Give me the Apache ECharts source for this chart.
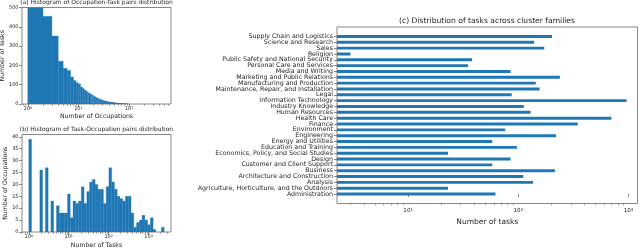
<!DOCTYPE html>
<html><head><meta charset="utf-8">
<script src="https://cdn.jsdelivr.net/npm/echarts@6/dist/echarts.min.js"></script>
<style>html,body{margin:0;padding:0;background:#fff}#c{width:640px;height:248px}</style>
</head><body><div id="c"></div>
<script>
// ---------- (a) number of tasks having k occupations, k = 1, 2, 3, ... ----------
const occupationsPerTask = [
  900, 455, 352, 222, 185, 174, 140, 122, 110, 104,
  88, 80, 72, 66, 60, 56, 52, 48, 44, 40,
  37, 34, 31, 29, 27, 25, 23, 22, 20, 19,
  18, 17, 16, 15, 14, 14, 13, 12, 12, 11,
  11, 10, 10, 9, 9, 8, 8, 8, 7, 7,
  7, 6, 6, 6, 5, 5, 5, 5, 4, 4,
  4, 4, 4, 3, 3, 3, 3, 3, 3, 2,
  2, 2, 2, 2, 2, 2, 2, 2, 1, 2,
  1, 1, 1, 1, 1, 1, 1, 0, 1, 1,
  0, 1, 0, 1, 1
];
const occupationsFirstValue = 1;
// ---------- (b) occupations per log-spaced bin of number of tasks ----------
const tasksPerOccupation = [
  39, 0, 0, 0, 26, 0, 27, 0, 13, 0,
  11, 8, 8, 8, 16, 6, 13, 12, 13, 19,
  12, 17, 21, 22, 20, 18, 18, 12, 19, 27,
  21, 18, 15, 14, 13, 15, 15, 8, 2, 4,
  5, 7, 5, 3, 6, 1, 0, 0, 2
];
const tasksBinLow = 1;
const tasksBinHigh = 2450;
// ---------- (c) tasks per cluster family (bottom to top) ----------
const families = [
  'Administration',
  'Agriculture, Horticulture, and the Outdoors',
  'Analysis',
  'Architecture and Construction',
  'Business',
  'Customer and Client Support',
  'Design',
  'Economics, Policy, and Social Studies',
  'Education and Training',
  'Energy and Utilities',
  'Engineering',
  'Environment',
  'Finance',
  'Health Care',
  'Human Resources',
  'Industry Knowledge',
  'Information Technology',
  'Legal',
  'Maintenance, Repair, and Installation',
  'Manufacturing and Production',
  'Marketing and Public Relations',
  'Media and Writing',
  'Personal Care and Services',
  'Public Safety and National Security',
  'Religion',
  'Sales',
  'Science and Research',
  'Supply Chain and Logistics'
];
const familyTasks = [
  62, 23, 136, 111, 215, 58, 85, 23, 97, 58,
  220, 76, 346, 700, 129, 112, 960, 87, 156, 144,
  238, 85, 35, 38, 3, 172, 139, 202
];
// ---------- tick labels ----------
const ticksA_x = [1, 10, 100];
const minorA_x = [0.8, 0.9, 2, 3, 4, 5, 6, 7, 8, 9, 20, 30, 40, 50, 60, 70, 80, 90, 200, 300, 400, 500, 600];
const ticksA_y = [0, 100, 200, 300, 400, 500];
const ticksB_x = [1, 10, 100, 1000];
const minorB_x = [0.7, 0.8, 0.9, 2, 3, 4, 5, 6, 7, 8, 9, 20, 30, 40, 50, 60, 70, 80, 90, 200, 300, 400, 500, 600, 700, 800, 900, 2000, 3000];
const ticksB_y = [0, 5, 10, 15, 20, 25, 30, 35, 40];
const ticksC_x = [10, 100, 1000];
const minorC_x = [3, 4, 5, 6, 7, 8, 9, 20, 30, 40, 50, 60, 70, 80, 90, 200, 300, 400, 500, 600, 700, 800, 900];

// ---------- build histogram bins ----------
const histA = occupationsPerTask.map((c, i) => [occupationsFirstValue + i, occupationsFirstValue + i + 1, c]);
const nB = tasksPerOccupation.length;
const lo = Math.log10(tasksBinLow), hi = Math.log10(tasksBinHigh);
const histB = tasksPerOccupation.map((c, i) => [
  Math.pow(10, lo + (hi - lo) * i / nB),
  Math.pow(10, lo + (hi - lo) * (i + 1) / nB),
  c
]);
const barsC = familyTasks.map((v, i) => [v, i]);

const FONT = 'DejaVu Sans';
const TXT = '#1e1e1e';
const LINE = '#6a6a6a';
const BLUE = '#1f77b4';

function histItem(params, api) {
  const x0 = api.value(0), x1 = api.value(1), c = api.value(2);
  if (!c) return null;
  const p0 = api.coord([x0, c]);
  const p1 = api.coord([x1, 0]);
  const r = echarts.graphic.clipRectByRect(
    {x: p0[0], y: p0[1], width: p1[0] - p0[0], height: p1[1] - p0[1]}, params.coordSys);
  if (!r) return null;
  return {type: 'rect', shape: r, style: {fill: BLUE, stroke: BLUE, lineWidth: 0.3}};
}
function barItem(params, api) {
  const v = api.value(0), i = api.value(1);
  const a = api.coord([v, i + 0.25]);
  const b = api.coord([v, i - 0.25]);
  const left = params.coordSys.x;
  return {type: 'rect', shape: {x: left, y: a[1], width: a[0] - left, height: b[1] - a[1]}, style: {fill: BLUE}};
}
function powLabel(v) {
  const e = Math.round(Math.log10(v));
  return '{b|10}{e|' + e + '}';
}
function logMajor(grid, min, max, ticks, fs, margin, name, nameGap, nameFs) {
  return {
    type: 'log', gridIndex: grid, min: min, max: max, position: 'bottom',
    axisLine: {show: false},
    splitLine: {show: false},
    axisTick: {show: true, length: 3, customValues: ticks, lineStyle: {color: LINE, width: 0.8}},
    axisLabel: {
      customValues: ticks, margin: margin, formatter: powLabel, color: TXT,
      rich: {b: {fontSize: fs, fontFamily: FONT, color: TXT}, e: {fontSize: fs * 0.7, fontFamily: FONT, color: TXT, verticalAlign: 'top'}}
    },
    name: name, nameLocation: 'middle', nameGap: nameGap,
    nameTextStyle: {fontSize: nameFs, fontFamily: FONT, color: TXT}
  };
}
function logMinor(grid, min, max, ticks) {
  return {
    type: 'log', gridIndex: grid, min: min, max: max, position: 'bottom',
    axisLine: {show: false}, splitLine: {show: false},
    axisLabel: {show: false},
    axisTick: {show: true, length: 1.8, customValues: ticks, lineStyle: {color: LINE, width: 0.6}}
  };
}
function valY(grid, min, max, ticks, fs, margin, name, nameGap, nameFs, fmt) {
  const ax = {
    type: 'value', gridIndex: grid, min: min, max: max,
    axisLine: {show: false}, splitLine: {show: false},
    axisTick: {show: true, length: 3, customValues: ticks, lineStyle: {color: LINE, width: 0.8}},
    axisLabel: {customValues: ticks, margin: margin, fontSize: fs, fontFamily: FONT, color: TXT}
  };
  if (fmt) ax.axisLabel.formatter = fmt;
  if (name) {
    ax.name = name; ax.nameLocation = 'middle'; ax.nameGap = nameGap;
    ax.nameTextStyle = {fontSize: nameFs, fontFamily: FONT, color: TXT};
  }
  return ax;
}
const gridBase = {show: true, borderColor: LINE, borderWidth: 0.8, backgroundColor: 'transparent', containLabel: false, outerBoundsMode: 'none'};

const chart = echarts.init(document.getElementById('c'), null, {renderer: 'canvas'});
chart.setOption({
  animation: false,
  backgroundColor: '#fff',
  textStyle: {fontFamily: FONT},
  grid: [
    Object.assign({left: 22, top: 7.5, width: 149, height: 96.5}, gridBase),
    Object.assign({left: 22, top: 134.5, width: 149, height: 97.5}, gridBase),
    Object.assign({left: 337, top: 27, width: 300.5, height: 176.5}, gridBase)
  ],
  xAxis: [
    logMajor(0, 0.77, 670, ticksA_x, 5, 2.5, 'Number of Occupations', 9.5, 6.2),
    logMinor(0, 0.77, 670, minorA_x),
    logMajor(1, 0.676, 3630, ticksB_x, 5, 2.5, 'Number of Tasks', 10, 6.2),
    logMinor(1, 0.676, 3630, minorB_x),
    logMajor(2, 2.26, 1207, ticksC_x, 5.6, 4, 'Number of tasks', 14.5, 7.5),
    logMinor(2, 2.26, 1207, minorC_x)
  ],
  yAxis: [
    valY(0, 0, 500, ticksA_y, 5, 3.5, 'Number of Tasks', 14.5, 6.2),
    valY(1, 0, 40.95, ticksB_y, 5, 3.5, 'Number of Occupations', 14, 6.2),
    valY(2, -1.625, 28.625, familyTasks.map((v, i) => i), 6.3, 4, null, 0, 0, v => families[v])
  ],
  graphic: [
    {type: 'text', x: 96.5, y: 2.5, style: {text: '(a) Histogram of Occupation-Task pairs distribution', fontSize: 6, fontFamily: FONT, fill: TXT, align: 'center', verticalAlign: 'middle'}},
    {type: 'text', x: 96.5, y: 129.5, style: {text: '(b) Histogram of Task-Occupation pairs distribution', fontSize: 6, fontFamily: FONT, fill: TXT, align: 'center', verticalAlign: 'middle'}},
    {type: 'text', x: 487, y: 21, style: {text: '(c) Distribution of tasks across cluster families', fontSize: 7.6, fontFamily: FONT, fill: TXT, align: 'center', verticalAlign: 'middle'}}
  ],
  series: [
    {type: 'custom', xAxisIndex: 0, yAxisIndex: 0, renderItem: histItem, data: histA, encode: {x: [0, 1], y: 2}, clip: true},
    {type: 'custom', xAxisIndex: 2, yAxisIndex: 1, renderItem: histItem, data: histB, encode: {x: [0, 1], y: 2}, clip: true},
    {type: 'custom', xAxisIndex: 4, yAxisIndex: 2, renderItem: barItem, data: barsC, encode: {x: 0, y: 1}, clip: true}
  ]
});
</script></body></html>
